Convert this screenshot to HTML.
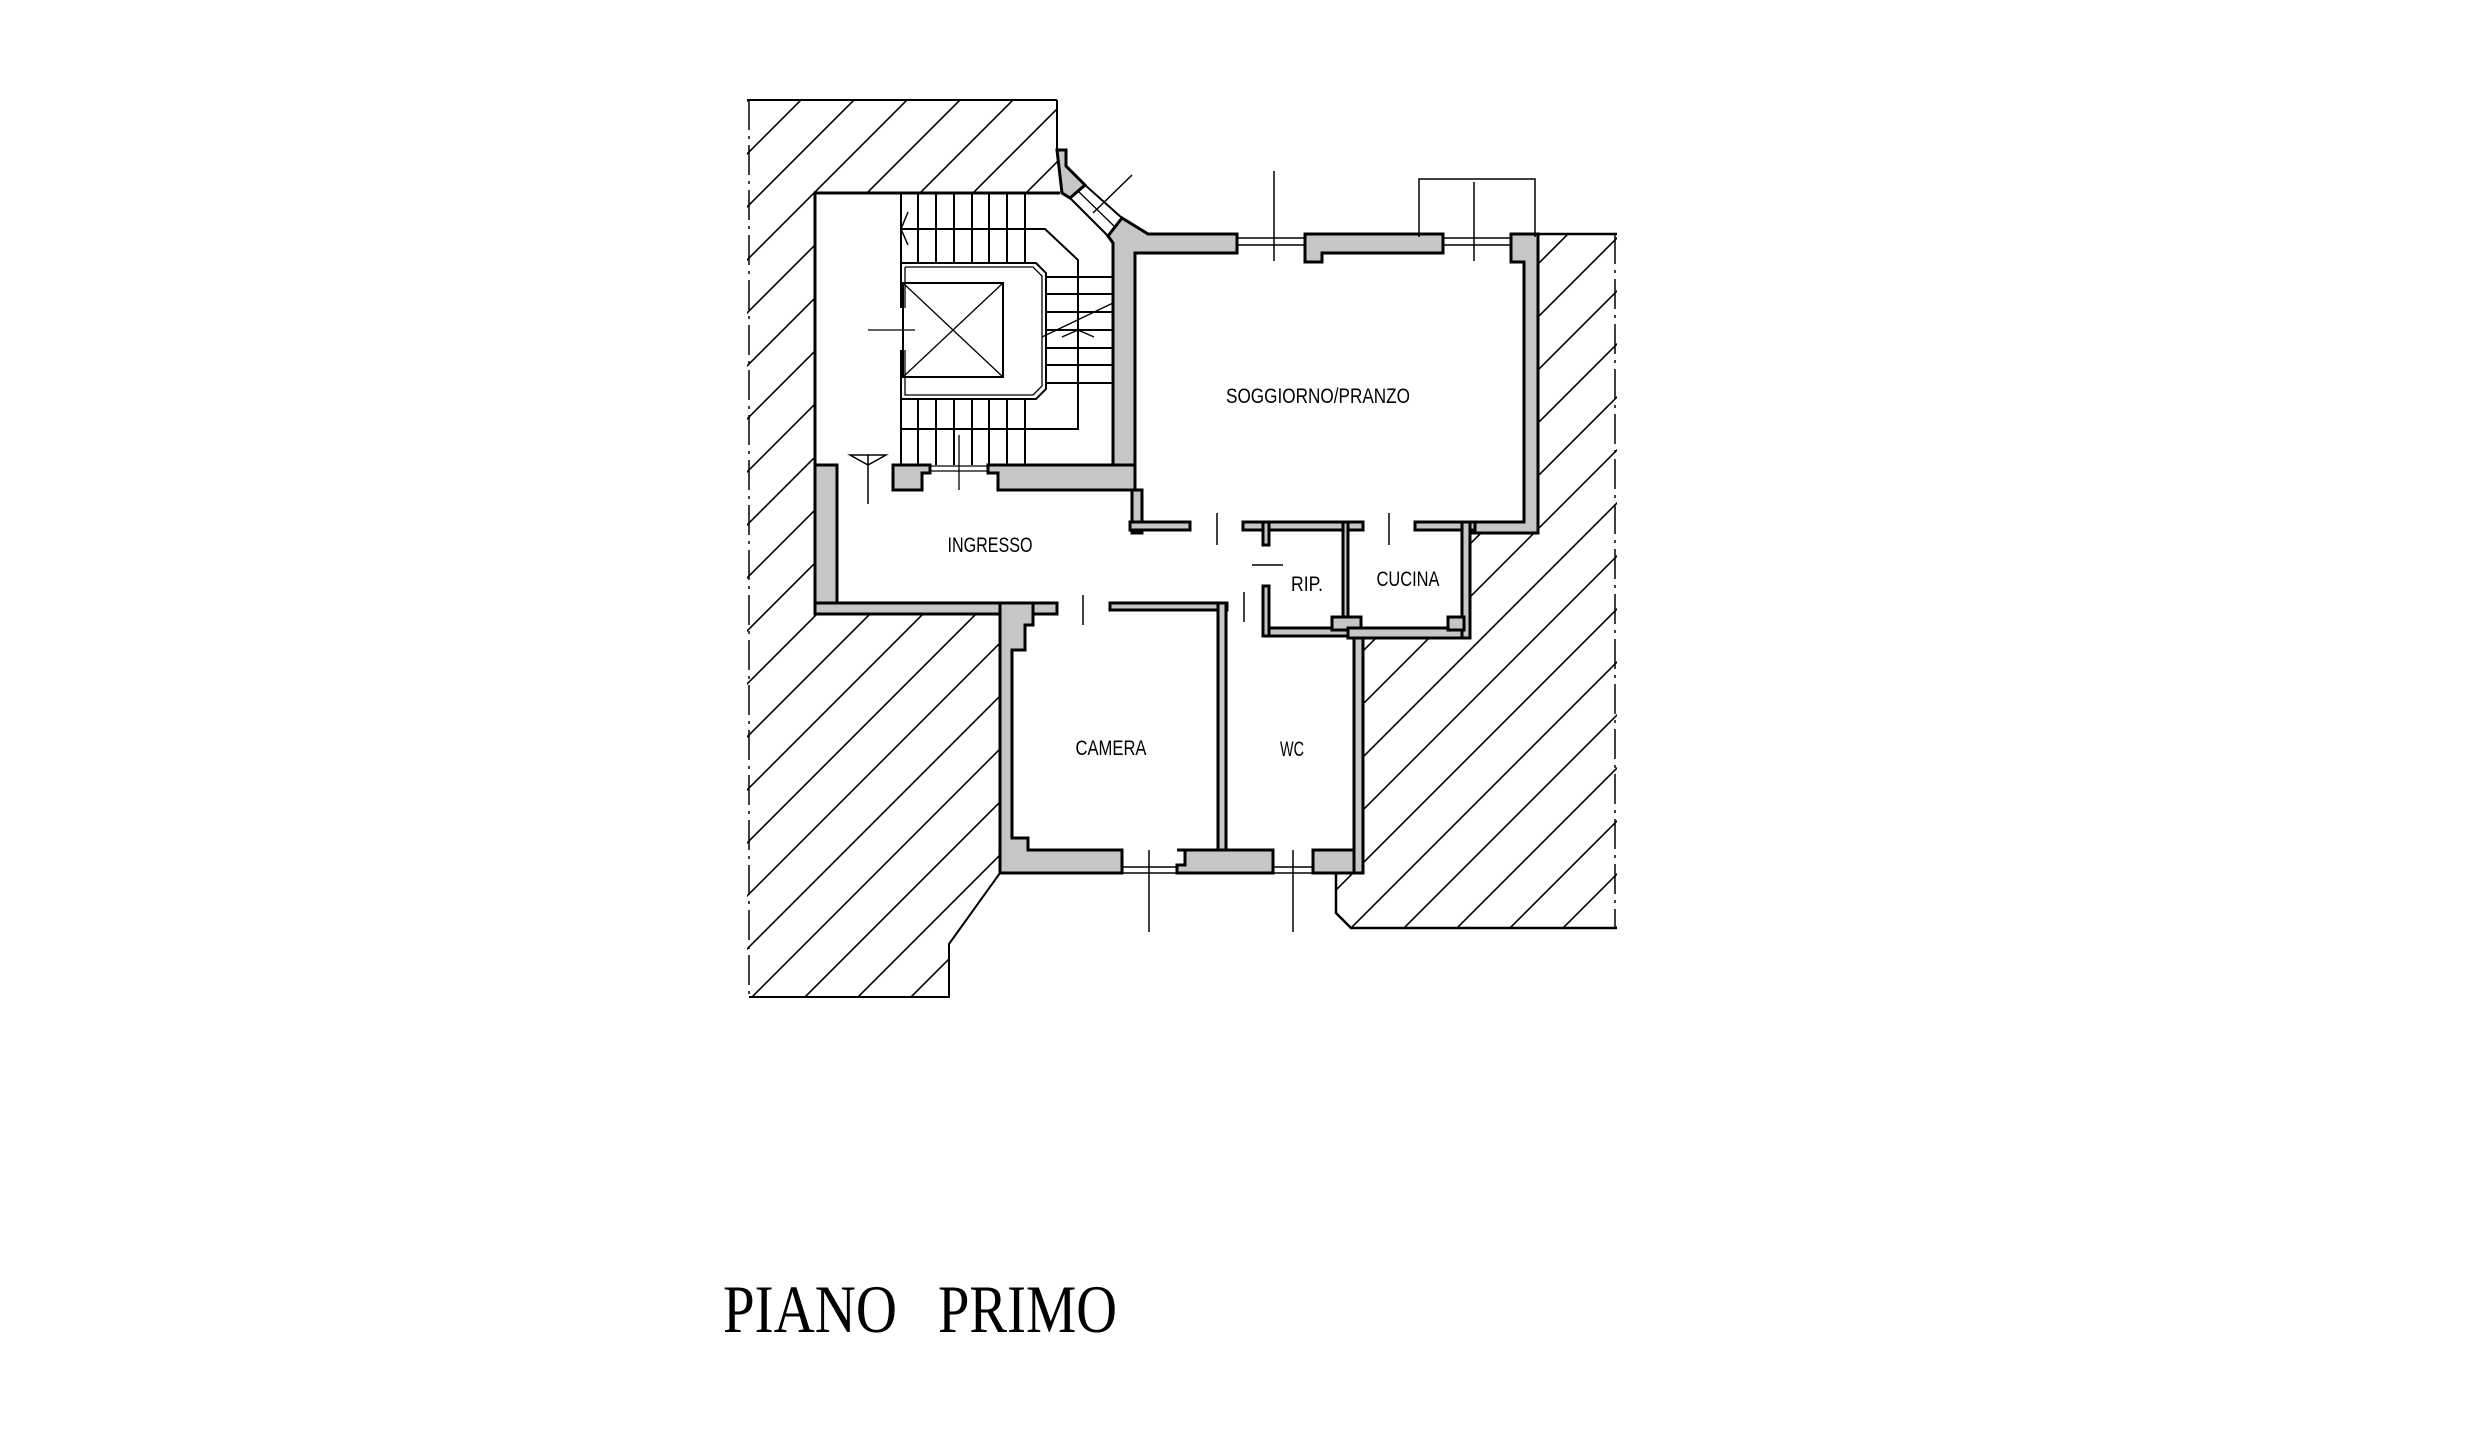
<!DOCTYPE html>
<html><head><meta charset="utf-8"><style>html,body{margin:0;padding:0;background:#fff}svg{display:block}</style></head>
<body>
<svg width="2482" height="1444" viewBox="0 0 2482 1444" xmlns="http://www.w3.org/2000/svg">
<defs>
<pattern id="h" patternUnits="userSpaceOnUse" width="53" height="53">
<path d="M-5,58 L58,-5 M-5,5 L5,-5 M48,58 L58,48" stroke="#000" stroke-width="1.6"/>
</pattern>
</defs>
<rect width="2482" height="1444" fill="#fff"/>
<!-- hatched areas -->
<polygon points="747,100 1057,100 1057,150 1060,193 815,193 815,614 1000,614 1000,873 949,944 949,997 747,997" fill="url(#h)"/>
<polyline points="1057,100 747,100" fill="none" stroke="#000" stroke-width="2"/>
<polyline points="1057,100 1057,150" fill="none" stroke="#000" stroke-width="2"/>
<line x1="749" y1="100" x2="749" y2="997" stroke="#000" stroke-width="1.5" stroke-dasharray="30,6,3,6"/>
<polyline points="749,997 949,997 949,944 1000,873" fill="none" stroke="#000" stroke-width="2"/>
<polygon points="1535,234 1617,234 1617,928 1351,928 1336,913 1336,873 1363,873 1363,638 1470,638 1470,533 1538,533" fill="url(#h)"/>
<polyline points="1538,234 1617,234" fill="none" stroke="#000" stroke-width="2.5"/>
<line x1="1615" y1="234" x2="1615" y2="928" stroke="#000" stroke-width="1.5" stroke-dasharray="30,6,3,6"/>
<polyline points="1336,873 1336,913 1351,928 1617,928" fill="none" stroke="#000" stroke-width="2.5"/>

<!-- stair block outline -->
<g stroke="#000" fill="none" stroke-width="2">
<polyline points="815,465 815,193 1060,193" stroke-width="3"/>
<line x1="901" y1="193" x2="901" y2="263"/><line x1="918" y1="193" x2="918" y2="263"/><line x1="936" y1="193" x2="936" y2="263"/><line x1="954" y1="193" x2="954" y2="263"/><line x1="972" y1="193" x2="972" y2="263"/><line x1="989" y1="193" x2="989" y2="263"/><line x1="1007" y1="193" x2="1007" y2="263"/><line x1="1025" y1="193" x2="1025" y2="263"/>
<polyline points="901,229 1045,229 1078,260 1078,429 901,429"/>
<polyline points="908,212 901,229 908,245" stroke-width="1.5"/>
<path d="M901,263 H1036 L1046,273 V389 L1036,399 H901 V350 M901,308 V263"/>
<path d="M905,267 H1033 L1042,276 V386 L1033,395 H905 V350 M905,308 V267" stroke-width="1.3"/>
<rect x="903" y="283" width="100" height="94"/>
<path d="M903,283 L1003,377 M1003,283 L903,377" stroke-width="1.3"/>
<line x1="868" y1="330" x2="915" y2="330" stroke-width="1.3"/>
<line x1="1046" y1="277" x2="1113" y2="277"/><line x1="1046" y1="294" x2="1113" y2="294"/><line x1="1046" y1="312" x2="1113" y2="312"/><line x1="1046" y1="330" x2="1113" y2="330"/><line x1="1046" y1="348" x2="1113" y2="348"/><line x1="1046" y1="365" x2="1113" y2="365"/><line x1="1046" y1="383" x2="1113" y2="383"/>
<line x1="1042" y1="337" x2="1113" y2="303" stroke-width="1.3"/>
<polyline points="1062,337 1078,330 1094,337" stroke-width="1.3"/>
<line x1="901" y1="399" x2="901" y2="465"/><line x1="918" y1="399" x2="918" y2="465"/><line x1="936" y1="399" x2="936" y2="465"/><line x1="954" y1="399" x2="954" y2="465"/><line x1="972" y1="399" x2="972" y2="465"/><line x1="989" y1="399" x2="989" y2="465"/><line x1="1007" y1="399" x2="1007" y2="465"/><line x1="1025" y1="399" x2="1025" y2="465"/>
<line x1="959" y1="435" x2="959" y2="490" stroke-width="1.3"/>
<polygon points="850,455 886,455 868,465" stroke-width="1.5"/>
<line x1="868" y1="455" x2="868" y2="504" stroke-width="1.5"/>
<line x1="930" y1="466" x2="988" y2="466" stroke-width="1.3"/><line x1="930" y1="471" x2="988" y2="471" stroke-width="1.3"/>
</g>

<!-- walls -->
<g fill="#c6c6c6" stroke="#000" stroke-width="3">
<!-- diagonal wall pieces -->
<polygon points="1057,150 1066,150 1066,166 1085,185 1070,198 1062,193"/>
<polygon points="1122,218 1148,234 1237,234 1237,253 1135,253 1135,490 1113,490 1113,243 1108,236"/>
<polygon points="1305,234 1443,234 1443,253 1322,253 1322,262 1305,262"/>
<polygon points="1511,234 1538,234 1538,533 1470,533 1470,522 1524,522 1524,262 1511,262"/>
<rect x="1132" y="490" width="10" height="43"/>
<rect x="1130" y="522" width="60" height="8"/>
<rect x="1243" y="522" width="120" height="8"/>
<rect x="1415" y="522" width="60" height="8"/>
<rect x="815" y="465" width="22" height="149"/>
<polygon points="893,465 930,465 930,473 922,473 922,490 893,490"/>
<polygon points="988,465 1135,465 1135,490 998,490 998,473 988,473"/>
<rect x="815" y="603" width="242" height="11"/>
<polygon points="1000,603 1033,603 1033,625 1025,625 1025,650 1012,650 1012,838 1028,838 1028,850 1122,850 1122,873 1000,873"/>
<rect x="1110" y="603" width="117" height="7"/>
<rect x="1218" y="603" width="8" height="247"/>
<polygon points="1177,850 1273,850 1273,873 1177,873 1177,865 1185,865 1185,850"/>
<rect x="1313" y="850" width="50" height="23"/>
<rect x="1354" y="628" width="9" height="245"/>
<rect x="1263" y="628" width="100" height="8"/>
<rect x="1263" y="586" width="6" height="50"/>
<rect x="1263" y="522" width="6" height="23"/>
<rect x="1343" y="522" width="5" height="106"/>
<rect x="1332" y="617" width="29" height="13"/>
<rect x="1348" y="628" width="122" height="10"/>
<rect x="1462" y="522" width="8" height="116"/>
<rect x="1448" y="617" width="16" height="13"/>
</g>
<!-- diagonal window band -->
<g stroke="#000" stroke-width="2" fill="none">
<line x1="1085" y1="185" x2="1122" y2="218"/>
<line x1="1070" y1="198" x2="1108" y2="236"/>
<line x1="1078" y1="191" x2="1115" y2="227" stroke-width="1.3"/>
</g>
<!-- window sills / ticks -->
<g stroke="#000" stroke-width="1.5" fill="none">
<line x1="1237" y1="238" x2="1305" y2="238"/><line x1="1237" y1="245" x2="1305" y2="245"/>
<line x1="1443" y1="238" x2="1511" y2="238"/><line x1="1443" y1="245" x2="1511" y2="245"/>
<line x1="1122" y1="867" x2="1177" y2="867"/><line x1="1122" y1="873" x2="1177" y2="873"/>
<line x1="1273" y1="867" x2="1313" y2="867"/><line x1="1273" y1="873" x2="1313" y2="873"/>
<line x1="1274" y1="171" x2="1274" y2="261"/>
<polyline points="1419,237 1419,179 1535,179 1535,237"/>
<line x1="1474" y1="182" x2="1474" y2="261"/>
<line x1="1093" y1="213" x2="1132" y2="175"/>
<line x1="1149" y1="850" x2="1149" y2="932"/>
<line x1="1293" y1="850" x2="1293" y2="932"/>
<line x1="1217" y1="513" x2="1217" y2="545"/>
<line x1="1389" y1="513" x2="1389" y2="545"/>
<line x1="1083" y1="595" x2="1083" y2="625"/>
<line x1="1244" y1="592" x2="1244" y2="622"/>
<line x1="1252" y1="565" x2="1283" y2="565"/>
</g>
<g font-family="'Liberation Sans', sans-serif" font-size="21" fill="#000" text-anchor="middle">
<text x="1318" y="403" textLength="184" lengthAdjust="spacingAndGlyphs">SOGGIORNO/PRANZO</text>
<text x="990" y="552" textLength="85" lengthAdjust="spacingAndGlyphs">INGRESSO</text>
<text x="1307" y="591" textLength="32" lengthAdjust="spacingAndGlyphs">RIP.</text>
<text x="1408" y="586" textLength="63" lengthAdjust="spacingAndGlyphs">CUCINA</text>
<text x="1111" y="755" textLength="71" lengthAdjust="spacingAndGlyphs">CAMERA</text>
<text x="1292" y="756" textLength="24" lengthAdjust="spacingAndGlyphs">WC</text>
</g>
<g font-family="'Liberation Serif', serif" font-size="68" fill="#000">
<text x="723" y="1332" textLength="174" lengthAdjust="spacingAndGlyphs">PIANO</text>
<text x="938" y="1332" textLength="179" lengthAdjust="spacingAndGlyphs">PRIMO</text>
</g>
</svg>
</body></html>
